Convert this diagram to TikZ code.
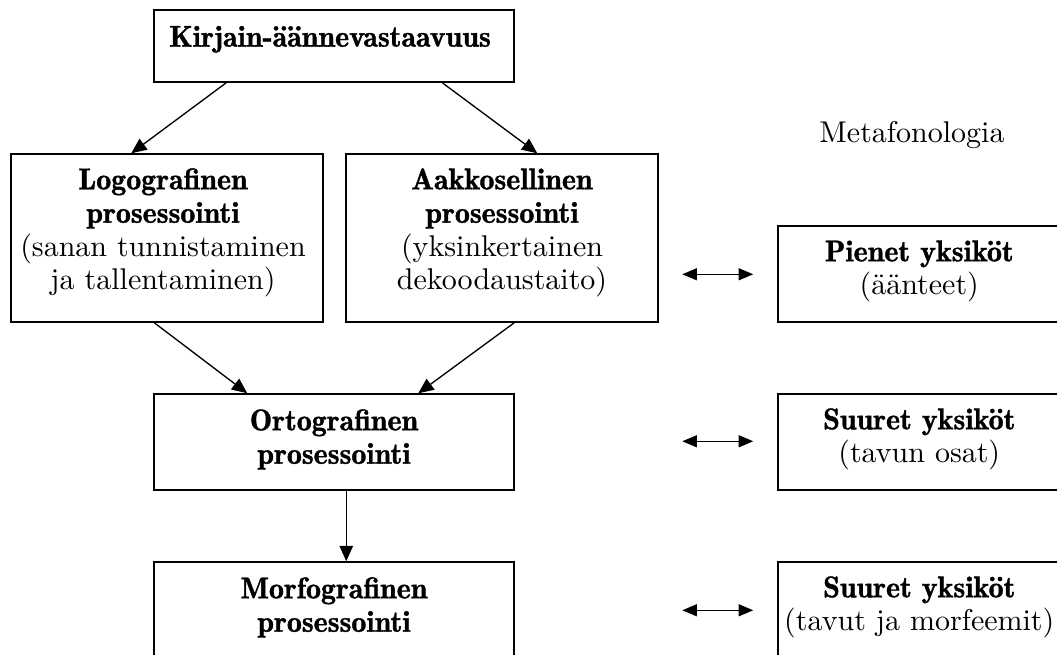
\documentclass[tikz,border=0pt]{standalone}
\usepackage{fontspec}
\setmainfont{lmroman10-regular.otf}[BoldFont=lmromandemi10-regular.otf,BoldFeatures={FakeBold=1.2}]
\usetikzlibrary{arrows.meta,fit,calc}
\begin{document}
\begin{tikzpicture}[x=0.75pt,y=-0.75pt,
  box/.style={draw,line width=1.1pt,inner sep=0pt},
  lbl/.style={anchor=base,inner sep=0pt,font=\fontsize{22.5}{25.1}\selectfont},
  arr/.style={-{Triangle[length=11.5pt,width=10pt]},line width=1pt},
  darr/.style={{Triangle[length=11pt,width=9pt]}-{Triangle[length=11pt,width=9pt]},line width=1pt}]
\useasboundingbox (0,0) rectangle (1057,654);
\clip (0,0) rectangle (1057,654);
% boxes
\node[box,fit={(154,10) (514,82)}] (top) {};
\node[box,fit={(11,154) (323,322)}] (logo) {};
\node[box,fit={(346,154) (658,322)}] (aakk) {};
\node[box,fit={(154,394) (514,490)}] (ortho) {};
\node[box,fit={(154,562) (514,670)}] (morf) {};
\node[box,fit={(778,226) (1065,322)}] (pien) {};
\node[box,fit={(778,394) (1065,490)}] (suur1) {};
\node[box,fit={(778,562) (1065,670)}] (suur2) {};
% texts
\node[lbl] (ttop) at ([yshift=-28pt,xshift=-3pt]top.north) {\begin{tabular}[t]{@{}c@{}}\textbf{Kirjain-äännevastaavuus}\end{tabular}};
\node[lbl] (tlogo) at ([yshift=-27pt,xshift=-3pt]logo.north) {\begin{tabular}[t]{@{}c@{}}\textbf{Logografinen}\\\textbf{prosessointi}\\(sanan tunnistaminen\\ja tallentaminen)\end{tabular}};
\node[lbl] (taakk) at ([yshift=-27pt]aakk.north) {\begin{tabular}[t]{@{}c@{}}\textbf{Aakkosellinen}\\\textbf{prosessointi}\\(yksinkertainen\\dekoodaustaito)\end{tabular}};
\node[lbl] (tortho) at ([yshift=-27.75pt]ortho.north) {\begin{tabular}[t]{@{}c@{}}\textbf{Ortografinen}\\\textbf{prosessointi}\end{tabular}};
\node[lbl] (tmorf) at ([yshift=-27.75pt]morf.north) {\begin{tabular}[t]{@{}c@{}}\textbf{Morfografinen}\\\textbf{prosessointi}\end{tabular}};
\node[lbl] (tpien) at ($(pien.north west)+(142,36)$) {\begin{tabular}[t]{@{}c@{}}\textbf{Pienet yksiköt}\\(äänteet)\end{tabular}};
\node[lbl] (tsuur1) at ($(suur1.north west)+(142,36)$) {\begin{tabular}[t]{@{}c@{}}\textbf{Suuret yksiköt}\\(tavun osat)\end{tabular}};
\node[lbl] (tsuur2) at ($(suur2.north west)+(142,36)$) {\begin{tabular}[t]{@{}c@{}}\textbf{Suuret yksiköt}\\(tavut ja morfeemit)\end{tabular}};
\node[lbl] (meta) at (912,142) {Metafonologia};
% connectors
\draw[arr] ($(top.south west)+(73,0)$) -- ($(logo.north west)+(121,0)$);
\draw[arr] ($(top.south west)+(289,0)$) -- ($(aakk.north west)+(192,0)$);
\draw[arr] ($(logo.south west)+(144,0)$) -- ($(ortho.north west)+(94,0)$);
\draw[arr] ($(aakk.south west)+(169,0)$) -- ($(ortho.north west)+(265,0)$);
\draw[arr] ($(ortho.south west)+(193,0)$) -- ($(morf.north west)+(193,0)$);
\coordinate (d1a) at ($(pien.north west)+(-95,49)$);
\coordinate (d1b) at ($(pien.north west)+(-24,49)$);
\coordinate (d2a) at ($(suur1.north west)+(-95,48)$);
\coordinate (d2b) at ($(suur1.north west)+(-24,48)$);
\coordinate (d3a) at ($(suur2.north west)+(-95,49)$);
\coordinate (d3b) at ($(suur2.north west)+(-24,49)$);
\draw[darr] (d1a) -- (d1b);
\draw[darr] (d2a) -- (d2b);
\draw[darr] (d3a) -- (d3b);
\end{tikzpicture}
\end{document}
